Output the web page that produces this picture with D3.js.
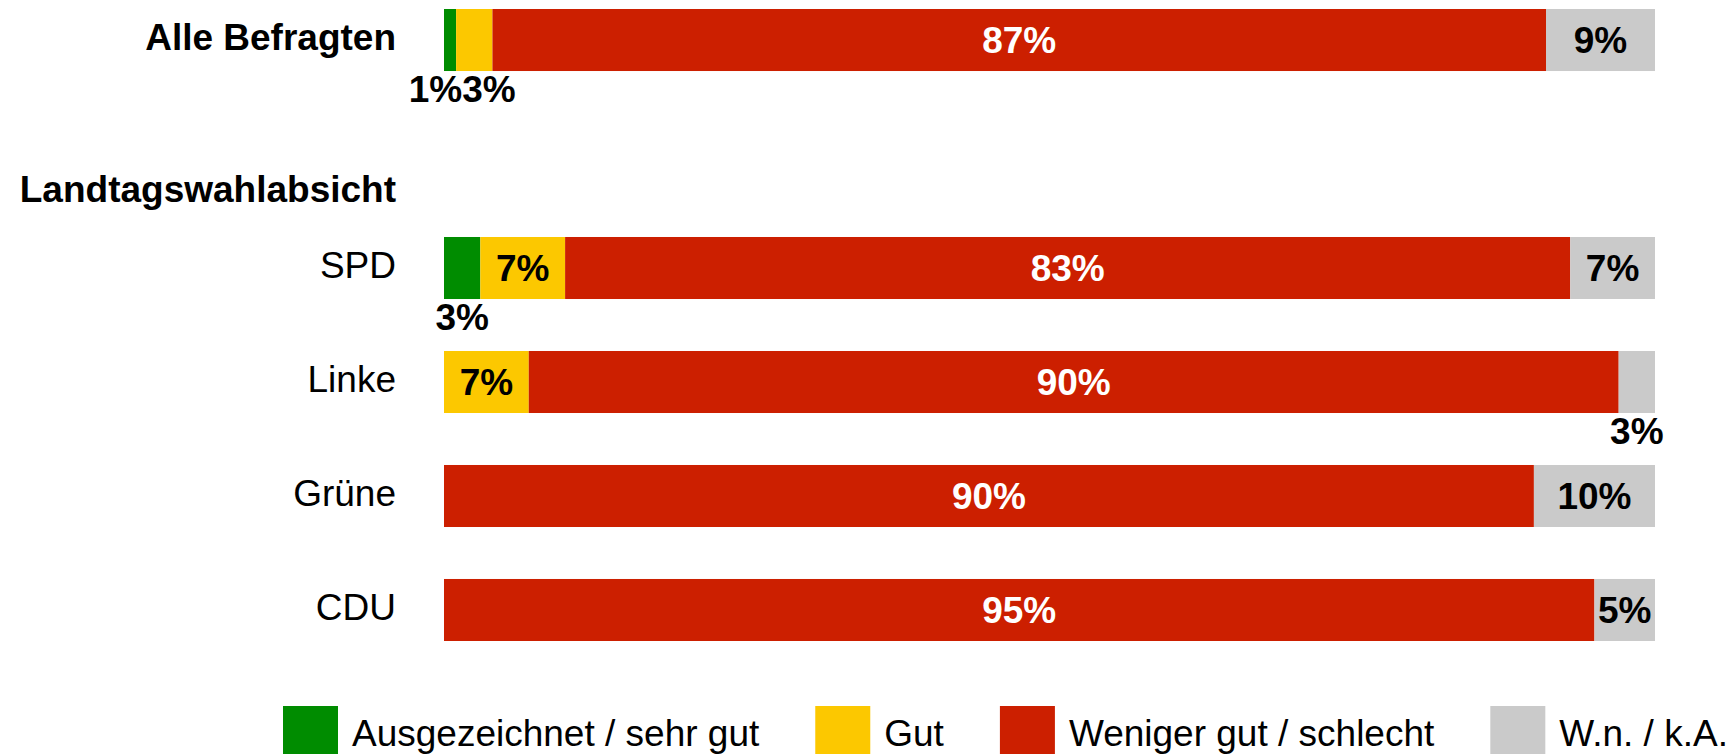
<!DOCTYPE html>
<html>
<head>
<meta charset="utf-8" />
<title>Landtagswahlabsicht</title>
<script src="https://d3js.org/d3.v7.min.js"></script>
<style type="text/css">
body { margin: 0; background: #fff; }
text { font-family: "Liberation Sans", Arial, sans-serif; }
</style>
</head>
<body>
<div id="chart"></div>
<script type="text/javascript">
var width = 1733,
    height = 754,
    fontSize = 37;

// rows from top to bottom, the heading row has no bar
var rows = ["Alle Befragten", "Landtagswahlabsicht", "SPD", "Linke", "Grüne", "CDU"];
var boldRows = ["Alle Befragten", "Landtagswahlabsicht"];
var headingRow = "Landtagswahlabsicht";

var categories = ["Ausgezeichnet / sehr gut", "Gut", "Weniger gut / schlecht", "W.n. / k.A."];
var colors = ["#008c00", "#fcc800", "#cc1f00", "#cacaca"];
var labelColors = ["#000", "#000", "#fff", "#000"];

var sehrGut  = [1, 3, 0, 0, 0];
var gut      = [3, 7, 7, 0, 0];
var weniger  = [87, 83, 90, 90, 95];
var wnka     = [9, 7, 3, 10, 5];
var barRows  = ["Alle Befragten", "SPD", "Linke", "Grüne", "CDU"];

var series = [sehrGut, gut, weniger, wnka];

var svg = d3.select("#chart")
    .append("svg")
    .attr("width", width)
    .attr("height", height);

var xScale = d3.scaleLinear()
    .domain([0, 100])
    .range([444, 1655]);

var yScale = d3.scaleBand()
    .domain(rows)
    .range([9, 641])
    .paddingInner(0.456)
    .paddingOuter(0);

// build stacked segments
var segments = [];
barRows.forEach(function(row, i) {
    var start = 0;
    series.forEach(function(s, k) {
        var v = s[i];
        if (v > 0) {
            segments.push({ row: row, k: k, v: v, x0: start, x1: start + v });
        }
        start += v;
    });
});

svg.selectAll(".seg")
    .data(segments)
    .enter()
    .append("rect")
    .attr("class", "seg")
    .attr("x", d => xScale(d.x0))
    .attr("width", d => xScale(d.x1) - xScale(d.x0))
    .attr("y", d => yScale(d.row))
    .attr("height", yScale.bandwidth())
    .attr("fill", d => colors[d.k]);

// row labels
svg.selectAll(".rowlabel")
    .data(rows)
    .enter()
    .append("text")
    .attr("class", "rowlabel")
    .attr("x", 396)
    .attr("y", d => d == headingRow ? yScale(d) + yScale.bandwidth() + 17 : yScale(d) + yScale.bandwidth() / 2 - 3)
    .attr("dy", d => d == headingRow ? 0 : "0.35em")
    .attr("text-anchor", "end")
    .attr("font-size", fontSize)
    .attr("font-weight", d => boldRows.indexOf(d) >= 0 ? "bold" : "normal")
    .attr("fill", "#000")
    .text(d => d);

// value labels: inside if they fit, otherwise below the bar
var labels = svg.selectAll(".val")
    .data(segments)
    .enter()
    .append("text")
    .attr("class", "val")
    .attr("font-size", fontSize)
    .attr("font-weight", "bold")
    .attr("text-anchor", "middle")
    .text(d => d.v + "%");

labels.each(function(d) {
    d.w = this.getComputedTextLength();
    d.segW = xScale(d.x1) - xScale(d.x0);
    d.inside = d.w + 4 < d.segW;
    d.cx = (xScale(d.x0) + xScale(d.x1)) / 2;
});

// push apart labels below the same bar if they overlap
barRows.forEach(function(row) {
    var below = segments.filter(d => d.row == row && !d.inside);
    for (var i = 1; i < below.length; i++) {
        var a = below[i - 1], b = below[i];
        var need = (a.w + b.w) / 2 - (b.cx - a.cx);
        if (need > 0) {
            a.cx -= need / 2;
            b.cx += need / 2;
        }
    }
});

labels
    .attr("x", d => d.cx)
    .attr("y", d => d.inside ? yScale(d.row) + yScale.bandwidth() / 2 : yScale(d.row) + yScale.bandwidth() + 31)
    .attr("dy", d => d.inside ? "0.35em" : 0)
    .attr("fill", d => d.inside ? labelColors[d.k] : "#000");

// legend
var legend = svg.append("g").attr("class", "legend");
var lx = 283;
categories.forEach(function(c, k) {
    legend.append("rect")
        .attr("x", lx)
        .attr("y", 706)
        .attr("width", 55)
        .attr("height", 55)
        .attr("fill", colors[k]);
    var t = legend.append("text")
        .attr("x", lx + 55 + 14)
        .attr("y", 746)
        .attr("font-size", fontSize)
        .attr("fill", "#000")
        .text(c);
    lx += 55 + 14 + t.node().getComputedTextLength() + 56;
});
</script>
</body>
</html>
